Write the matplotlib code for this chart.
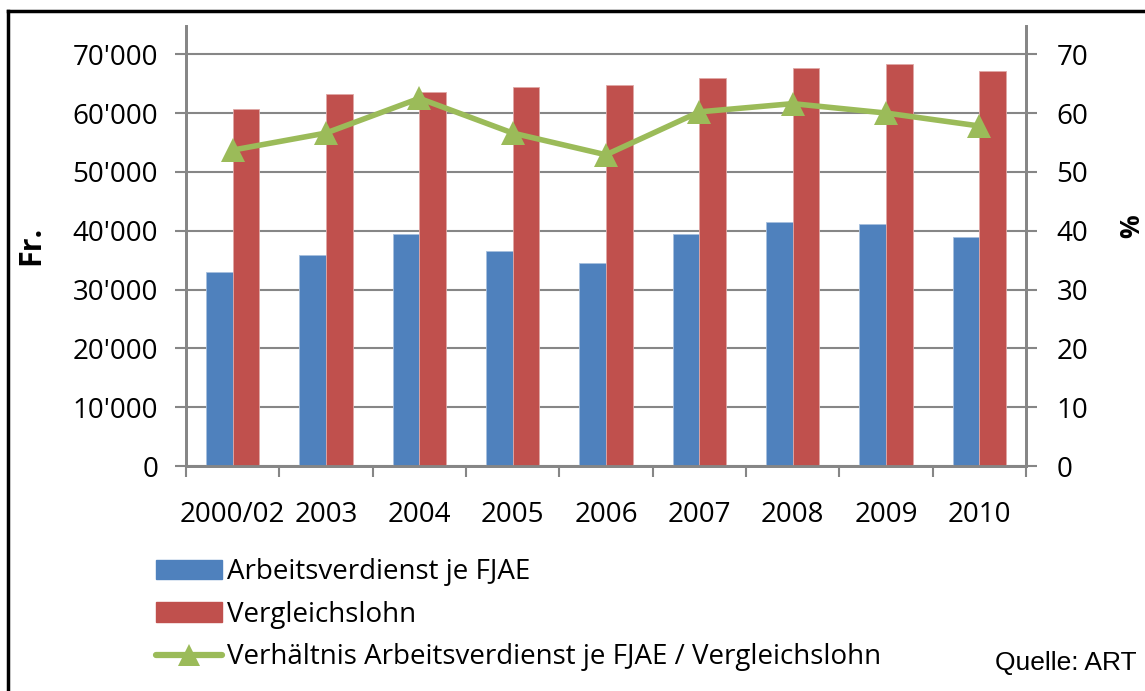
import matplotlib.pyplot as plt
import numpy as np
from matplotlib.ticker import FuncFormatter, FixedLocator
from matplotlib.lines import Line2D

plt.rcParams['font.family'] = ['Open Sans', 'DejaVu Sans']

# data
jahre = ["2000/02", "2003", "2004", "2005", "2006", "2007", "2008", "2009", "2010"]
arbeitsverdienst = [32900, 35800, 39400, 36600, 34500, 39400, 41500, 41100, 39000]
vergleichslohn = [60700, 63200, 63600, 64400, 64800, 66000, 67600, 68400, 67200]
verhaeltnis = [53.7, 56.6, 62.5, 56.6, 52.9, 60.2, 61.6, 60.0, 57.8]

blau = '#4F81BD'
rot = '#C0504D'
gruen = '#9BBB59'
grau = '#868686'

fig = plt.figure(figsize=(11.45, 6.91), dpi=100)
ax = fig.add_axes([0.1624, 0.3256, 0.7337, 0.6368])
ax2 = ax.twinx()

x = np.arange(len(jahre))
w = 0.285
ax.bar(x - w/2, arbeitsverdienst, w, color=blau, edgecolor='#A7C0DE', linewidth=0.6, zorder=3)
ax.bar(x + w/2, vergleichslohn, w, color=rot, edgecolor='#E0A8A6', linewidth=0.6, zorder=3)
ax2.plot(x, verhaeltnis, color=gruen, lw=4, marker='^', ms=17, mew=0, zorder=4)

ax.set_xlim(-0.5, len(jahre) - 0.5)
ax.set_ylim(0, 74800)
ax2.set_ylim(0, 74.8)
ax.set_yticks(np.arange(0, 70001, 10000))
ax2.set_yticks(np.arange(0, 71, 10))
ax.yaxis.set_major_formatter(FuncFormatter(lambda v, p: f"{int(v):,}".replace(",", "'")))

ax.grid(axis='y', color=grau, lw=1.5, zorder=0)
ax.set_axisbelow(True)

ax.set_xticks(x)
ax.set_xticklabels(jahre)
ax.xaxis.set_minor_locator(FixedLocator(np.arange(-0.5, len(jahre), 1)))
ax.tick_params(axis='x', which='major', length=0, pad=25, labelsize=20)
ax.tick_params(axis='x', which='minor', length=8, width=1.5, color=grau)
ax.tick_params(axis='y', length=8, width=1.5, color=grau, pad=12, labelsize=20)
ax2.tick_params(axis='y', length=8, width=1.5, color=grau, pad=14, labelsize=20)

for a in (ax, ax2):
    a.spines['top'].set_visible(False)
    for s in ('left', 'right', 'bottom'):
        a.spines[s].set_color(grau)
        a.spines[s].set_linewidth(2)

fig.text(0.027, 0.645, "Fr.", rotation=90, fontsize=22, fontweight='bold', ha='center', va='center')
fig.text(0.988, 0.672, "%", rotation=90, fontsize=19, fontweight='bold', ha='center', va='center')

handles = [plt.Rectangle((0, 0), 1, 1, color=blau),
           plt.Rectangle((0, 0), 1, 1, color=rot),
           Line2D([], [], color=gruen, lw=4.5, marker='^', ms=16, mew=0, solid_capstyle='round')]
labels = ["Arbeitsverdienst je FJAE", "Vergleichslohn",
          "Verhältnis Arbeitsverdienst je FJAE / Vergleichslohn"]
fig.legend(handles, labels, loc='upper left', bbox_to_anchor=(0.1245, 0.212), frameon=False,
           fontsize=20, handlelength=2.35, handletextpad=0.18, labelspacing=0.52, borderpad=0, numpoints=1)

fig.text(0.993, 0.03, "Quelle: ART", family='Liberation Sans', fontsize=19, ha='right', va='baseline')

# Rahmen links und oben
fig.add_artist(Line2D([0.0066, 0.0066], [0, 0.984], color='black', lw=2.5))
fig.add_artist(Line2D([0.0066, 1], [0.984, 0.984], color='black', lw=2.5))

fig.savefig("out.png", dpi=100)
